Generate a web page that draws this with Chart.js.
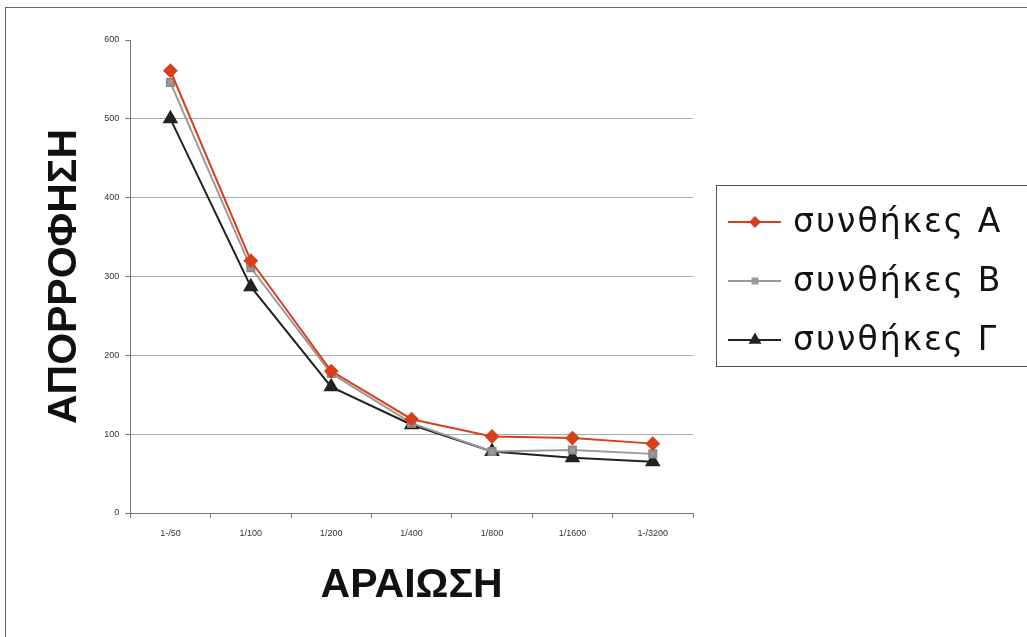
<!DOCTYPE html>
<html lang="el">
<head>
<meta charset="UTF-8">
<title>ΑΠΟΡΡΟΦΗΣΗ - ΑΡΑΙΩΣΗ</title>
<script src="https://cdn.jsdelivr.net/npm/chart.js"></script>
<style>
  html, body { margin: 0; padding: 0; background: #fff; }
  #wrap { width: 1027px; height: 637px; position: relative; }
</style>
</head>
<body>
<div id="wrap"><canvas id="chart" width="1027" height="637"></canvas></div>
<script>
// categories (dilutions)
const dilutions = ['1-/50', '1/100', '1/200', '1/400', '1/800', '1/1600', '1-/3200'];
// series values
const condA = [561, 320, 180, 119, 97, 95, 88];
const condB = [546, 311, 177, 114, 78, 80, 75];
const condG = [500, 287, 160, 112, 78, 70, 65];
const seriesNames = ['συνθήκες Α', 'συνθήκες Β', 'συνθήκες Γ'];
const yTicks = [0, 100, 200, 300, 400, 500, 600];

// frame + boxed legend on the right
const framePlugin = {
    id: 'frame',
    afterDraw(chart) {
        const ctx = chart.ctx;
        ctx.save();
        ctx.strokeStyle = '#666';
        ctx.lineWidth = 1;
        ctx.strokeRect(5.5, 7.5, 1040, 650);

        // legend box
        const bx = 716.5, by = 185.5;
        ctx.strokeStyle = '#555';
        ctx.strokeRect(bx, by, 330, 181);
        const rowY = [222, 281, 340];
        chart.data.datasets.forEach((ds, i) => {
            const y = rowY[i];
            ctx.strokeStyle = ds.borderColor;
            ctx.lineWidth = 2;
            ctx.beginPath();
            ctx.moveTo(728, y);
            ctx.lineTo(781, y);
            ctx.stroke();
            Chart.helpers.drawPoint(ctx, {
                pointStyle: ds.pointStyle,
                radius: ds.pointRadius - 1.5,
                borderWidth: 1
            }, 755, y);
            ctx.fillStyle = ds.pointBackgroundColor;
            ctx.strokeStyle = ds.pointBorderColor;
            ctx.fill();
            ctx.fillStyle = '#111';
            ctx.font = '33px "DejaVu Sans", Verdana, sans-serif';
            ctx.letterSpacing = '2px';
            ctx.textBaseline = 'middle';
            ctx.fillText(ds.label, 793, y + 1);
        });
        ctx.restore();
    }
};

new Chart(document.getElementById('chart'), {
    type: 'line',
    data: {
        labels: dilutions,
        datasets: [
            {
                label: seriesNames[0], data: condA,
                borderColor: '#d8401c', backgroundColor: '#d8401c',
                pointBackgroundColor: '#d8401c', pointBorderColor: '#d8401c',
                pointStyle: 'rectRot', pointRadius: 6, borderWidth: 2
            },
            {
                label: seriesNames[1], data: condB,
                borderColor: '#9a9a9a', backgroundColor: '#9a9a9a',
                pointBackgroundColor: '#9a9a9a', pointBorderColor: '#8a8a8a',
                pointStyle: 'rect', pointRadius: 5, borderWidth: 2
            },
            {
                label: seriesNames[2], data: condG,
                borderColor: '#222', backgroundColor: '#222',
                pointBackgroundColor: '#222', pointBorderColor: '#222',
                pointStyle: 'triangle', pointRadius: 7, borderWidth: 2
            }
        ]
    },
    options: {
        responsive: false,
        animation: false,
        layout: { padding: { left: 40, right: 334, top: 40, bottom: 27 } },
        plugins: {
            legend: { display: false },
            tooltip: { enabled: false }
        },
        scales: {
            x: {
                offset: true,
                grid: { offset: true, drawOnChartArea: false, tickLength: 5, color: '#777' },
                border: { color: '#777', width: 1 },
                ticks: { color: '#333', font: { family: 'Liberation Sans', size: 9 }, padding: 10, maxRotation: 0 },
                title: {
                    display: true, text: 'ΑΡΑΙΩΣΗ', color: '#111',
                    font: { family: 'Liberation Sans', size: 41, weight: 'bold' },
                    padding: { top: 12, bottom: 0 }
                }
            },
            y: {
                min: 0, max: 600,
                afterBuildTicks: axis => { axis.ticks = yTicks.map(v => ({ value: v })); },
                grid: {
                    color: c => (c.tick && (c.tick.value === 0 || c.tick.value === 600)) ? 'rgba(0,0,0,0)' : '#aaa',
                    tickColor: '#777', tickLength: 5, lineWidth: 1
                },
                border: { color: '#777', width: 1 },
                ticks: { color: '#333', font: { family: 'Liberation Sans', size: 9 }, padding: 6 },
                title: {
                    display: true, text: 'ΑΠΟΡΡΟΦΗΣΗ', color: '#111',
                    font: { family: 'Liberation Sans', size: 41, weight: 'bold' },
                    padding: { top: 0, bottom: 9 }
                }
            }
        }
    },
    plugins: [framePlugin]
});
</script>
</body>
</html>
